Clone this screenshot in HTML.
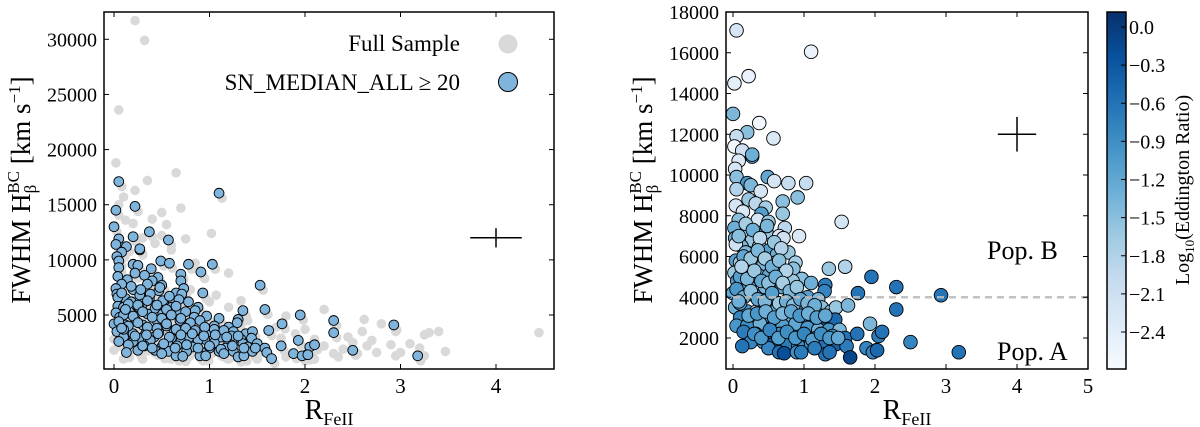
<!DOCTYPE html>
<html><head><meta charset="utf-8">
<style>
html,body{margin:0;padding:0;background:#fff;}
svg, svg text{font-family:"Liberation Serif","DejaVu Serif",serif;}
svg{display:block;}
</style></head>
<body>
<svg id="chart" width="1200" height="427" viewBox="0 0 1200 427" xmlns="http://www.w3.org/2000/svg" font-family="Liberation Serif, DejaVu Serif, serif">
<defs>
<linearGradient id="blues" x1="0" y1="1" x2="0" y2="0">
<stop offset="0" stop-color="#f7fbff"/><stop offset="0.125" stop-color="#deebf7"/><stop offset="0.25" stop-color="#c6dbef"/><stop offset="0.375" stop-color="#9ecae1"/><stop offset="0.5" stop-color="#6baed6"/><stop offset="0.625" stop-color="#4292c6"/><stop offset="0.75" stop-color="#2171b5"/><stop offset="0.875" stop-color="#08519c"/><stop offset="1" stop-color="#08306b"/>
</linearGradient>
</defs>
<g id="left"></g>
<g id="right"></g>
<g id="cbar"></g>
</svg>
<script>
const snX=[0.05,1.1,0.22,0.02,0.0,0.37,0.2,0.05,0.57,0.02,0.13,0.27,0.27,0.08,0.03,0.05,0.2,0.49,0.58,0.78,1.03,0.05,0.25,0.39,0.91,0.22,0.04,0.32,0.46,0.7,0.14,0.08,0.4,0.7,0.35,0.5,1.53,0.02,0.2,0.47,0.73,0.03,0.27,0.65,0.71,0.93,0.12,0.04,0.37,0.51,0.18,0.3,0.62,0.78,0.04,0.1,0.26,0.43,0.6,0.88,0.85,1.35,1.58,0.02,0.16,0.35,0.51,0.67,0.97,1.1,1.95,0.06,0.23,0.45,0.69,0.84,1.3,1.29,1.76,2.3,2.93,0.0,0.12,0.3,0.55,0.8,1.05,1.2,0.03,0.2,0.33,0.47,0.63,0.85,1.0,1.25,1.38,1.45,1.62,2.3,0.1,0.26,0.42,0.6,0.78,0.95,1.12,1.33,1.44,1.23,0.05,0.2,0.38,0.56,0.7,0.88,1.05,1.2,1.35,1.5,1.93,0.15,0.32,0.5,0.66,0.82,1.0,1.17,1.4,1.58,1.75,2.05,2.1,0.25,0.43,0.57,0.76,0.92,1.1,1.25,1.45,1.6,1.88,2.02,2.5,0.13,0.5,0.65,0.72,0.9,0.96,1.3,1.36,1.65,1.97,3.18,2.03,
0.08,0.18,0.28,0.38,0.48,0.58,0.68,0.15,0.25,0.35,0.45,0.55,0.65,0.75,0.1,0.2,0.3,0.4,0.5,0.6,0.7,0.8,0.9,0.05,0.15,0.25,0.35,0.45,0.55,0.65,0.75,0.85,0.95,1.05,1.15,0.1,0.22,0.34,0.46,0.58,0.7,0.82,0.94,1.06,1.18,1.3,0.3,0.4,0.52,0.64,0.76,0.88,1.0,1.12,1.24,1.36,1.48,1.15,0.08,0.12];
const snY=[17100,16050,14850,14500,13000,12550,12100,11900,11800,11400,11200,10900,11000,10700,10300,9900,9600,9900,9700,9600,9600,9300,9500,9200,8900,8800,8500,8600,8400,8700,8200,7800,8100,8100,7800,7700,7700,7400,7300,7200,7400,6900,6800,7000,6900,7000,6500,6600,6500,6300,6200,6000,6100,6200,5800,5700,5700,5600,5700,5700,5400,5400,5500,5200,5300,5100,5100,5200,4900,4700,5000,4800,4500,4500,4500,4800,4600,4300,4200,4500,4100,4200,4100,4100,4000,4000,4000,3900,3500,3300,3300,3400,3500,3300,3500,3500,3300,3500,3600,3400,3000,2900,3000,2900,2900,2800,3000,2800,2900,3100,2600,2600,2700,2500,2600,2700,2500,2400,2400,2400,2700,2300,2200,2100,2200,2100,2000,2000,2100,2000,2200,2100,2300,1800,1800,1700,1700,1600,1700,1700,1700,1600,1500,1400,1800,1600,1500,1300,1250,1300,1300,1200,1300,1050,1300,1300,1400,
7000,7600,7300,6900,7500,6700,6400,6000,5900,6300,5900,5500,5800,5300,5000,4900,5300,4800,4700,5000,4700,4300,4500,4400,4000,4300,3900,3800,4200,3700,3800,3600,3900,3700,3600,3700,3100,3200,3300,3000,3200,3300,3100,3200,3000,3100,2200,2000,2400,2000,2300,2000,2200,1900,2200,2000,2000,1500,3800,5500];
const snEdd=[-2.2,-2.5,-2.5,-2.4,-1.4,-2.6,-1.5,-2.0,-2.3,-2.6,-2.1,-1.1,-1.3,-2.3,-2.2,-1.5,-1.0,-1.2,-2.2,-2.0,-2.0,-1.8,-1.4,-2.2,-1.5,-1.6,-2.2,-1.9,-1.7,-1.5,-2.3,-1.5,-1.1,-1.6,-2.2,-1.6,-2.2,-1.3,-1.8,-1.6,-1.9,-1.3,-1.6,-2.3,-2.1,-2.3,-1.4,-2.1,-1.6,-1.1,-1.4,-1.7,-1.3,-1.6,-1.1,-1.7,-1.2,-1.4,-2.0,-1.7,-1.5,-1.6,-1.8,-1.6,-0.8,-1.3,-1.2,-1.5,-1.5,-1.3,-0.6,-1.0,-1.2,-1.4,-1.2,-1.6,-0.7,-0.8,-0.6,-0.6,-0.6,-1.2,-1.4,-1.1,-1.6,-1.1,-1.1,-1.4,-1.3,-1.0,-1.8,-1.1,-1.3,-1.4,-1.0,-1.5,-1.7,-1.6,-1.4,-0.6,-0.8,-1.2,-1.0,-1.0,-1.3,-1.1,-0.9,-0.2,-0.5,-1.4,-1.0,-0.9,-1.3,-0.9,-1.1,-1.2,-1.0,-1.3,-1.0,-1.4,-1.4,-0.7,-0.8,-0.6,-0.9,-0.8,-0.9,-0.8,-0.9,-0.6,-0.6,-0.7,-0.6,-0.8,-0.9,-0.4,-0.7,-0.9,-0.9,-0.6,-0.4,-0.7,-0.8,-0.8,-0.8,-0.6,-0.8,-0.6,-0.2,-0.9,-0.7,-0.6,-0.6,-0.1,-0.8,-0.6,-0.5,
-1.5,-1.7,-1.3,-1.9,-1.4,-1.6,-1.8,-1.2,-1.6,-1.4,-1.7,-1.3,-1.5,-1.8,-1.1,-1.4,-1.6,-1.2,-1.5,-1.3,-1.7,-1.4,-1.6,-1.0,-1.3,-1.5,-1.2,-1.4,-1.1,-1.6,-1.3,-1.5,-1.2,-1.4,-1.3,-1.1,-1.2,-1.0,-1.3,-1.1,-1.4,-1.2,-1.0,-1.3,-1.1,-1.2,-0.9,-1.0,-0.8,-1.1,-0.9,-1.0,-0.8,-1.1,-0.9,-1.0,-1.2,-0.7,-1.3,-1.8];
const fullX=[0.22,0.32,0.05,0.02,0.65,0.35,0.22,0.1,0.05,0.7,0.5,0.4,0.2,0.55,0.12,1.02,0.75,0.3,0.5,0.43,0.6,0.85,1.2,0.95,1.07,1.33,1.2,1.6,1.8,2.2,2.3,2.62,2.8,2.6,2.95,3.25,3.4,3.3,4.45,2.45,2.7,2.65,2.5,2.9,3.1,3.2,3.47,3.0,2.75,2.3,2.2,2.4,3.25,2.95,2.1,1.8,1.5,1.2,0.9,0.6,0.3,0.1,0.0,0.0,0.05,1.4,1.7,1.9,2.1,1.0,0.8,0.05,2.35,2.55,1.75,2.0,0.9];
const fullY=[31700,29900,23600,18800,17900,17200,16300,15700,15000,14700,14300,13700,13300,13200,13600,12400,11900,12000,12200,11500,10900,9700,8800,8300,6800,6300,5700,5200,4900,5500,4300,4600,4200,3500,3500,3200,3500,3400,3400,3000,2700,2200,2500,2300,2400,2000,1700,1600,1600,1500,2200,1900,1300,1300,1000,1200,1000,1000,1100,1000,1000,1000,1800,2800,8500,4500,3900,3300,2800,6200,7300,3000,1200,1500,2900,3700,9000];
const leftYTicks=[5000,10000,15000,20000,25000,30000];
const leftXTicks=[0,1,2,3,4];
const rightYTicks=[2000,4000,6000,8000,10000,12000,14000,16000,18000];
const rightXTicks=[0,1,2,3,4,5];
const cbTicks=[0.0,-0.3,-0.6,-0.9,-1.2,-1.5,-1.8,-2.1,-2.4];
const cbLabels=["0.0","\u22120.3","\u22120.6","\u22120.9","\u22121.2","\u22121.5","\u22121.8","\u22122.1","\u22122.4"];

const NS="http://www.w3.org/2000/svg";
const FF='Liberation Serif, DejaVu Serif, serif';
function mk(parent,tag,attrs){const e=document.createElementNS(NS,tag);for(const k in attrs)e.setAttribute(k,attrs[k]);if(tag==='text')e.setAttribute('font-family',FF);parent.appendChild(e);return e;}
function lin(d0,d1,r0,r1){return v=>r0+(v-d0)/(d1-d0)*(r1-r0);}

const stops=[[0,[247,251,255]],[0.125,[222,235,247]],[0.25,[198,219,239]],[0.375,[158,202,225]],[0.5,[107,174,214]],[0.625,[66,146,198]],[0.75,[33,113,181]],[0.875,[8,81,156]],[1,[8,48,107]]];
const VMIN=-2.69,VMAX=0.12;
function blues(v){let t=(v-VMIN)/(VMAX-VMIN);t=Math.max(0,Math.min(1,t));for(let i=1;i<stops.length;i++){if(t<=stops[i][0]){const a=stops[i-1],b=stops[i];const f=(t-a[0])/(b[0]-a[0]);const c=a[1].map((x,j)=>Math.round(x+(b[1][j]-x)*f));return `rgb(${c[0]},${c[1]},${c[2]})`;}}return "rgb(8,48,107)";}

function frame(g,L,T,R,B,xs,ys,xt,yt){
  for(const t of xt){const x=xs(t);
    const a=mk(g,'line',{x1:x,y1:B,x2:x,y2:B-5,stroke:'#000','stroke-width':1});
    
    const b=mk(g,'line',{x1:x,y1:T,x2:x,y2:T+5,stroke:'#000','stroke-width':1});
    
    const l=mk(g,'text',{x:x,y:B+24,'font-size':21,'text-anchor':'middle'});l.textContent=String(t);
    }
  yt.forEach(t=>{const y=ys(t);
    const a=mk(g,'line',{x1:L,y1:y,x2:L+5,y2:y,stroke:'#000','stroke-width':1});
    
    const b=mk(g,'line',{x1:R,y1:y,x2:R-5,y2:y,stroke:'#000','stroke-width':1});
    
    const l=mk(g,'text',{x:L-7,y:y+7,'font-size':20,'text-anchor':'end'});l.textContent=String(t);
    });
}
function border(g,L,T,R,B){const r=mk(g,'rect',{x:L,y:T,width:R-L,height:B-T,fill:'none',stroke:'#000','stroke-width':1.5});
  }
function ylabel(g,cx,cy){const t=mk(g,'text',{transform:`translate(${cx},${cy}) rotate(-90)`,'font-size':27,'text-anchor':'middle'});
  
  t.innerHTML='FWHM H<tspan font-size="17" dy="6">β</tspan><tspan font-size="17" dx="-9" dy="-17">BC</tspan><tspan dy="11"> [km s</tspan><tspan font-size="17" dy="-10">−1</tspan><tspan dy="10">]</tspan>';}
function xlabel(g,cx,y){const t=mk(g,'text',{x:cx,y:y,'font-size':28,'text-anchor':'middle'});
  
  t.innerHTML='R<tspan font-size="18" dy="6">FeII</tspan>';}
function cross(g,xs,ys,x,y,dx,dy){
  const a=mk(g,'line',{x1:xs(x-dx),y1:ys(y),x2:xs(x+dx),y2:ys(y),stroke:'#000','stroke-width':1.5});
  
  const b=mk(g,'line',{x1:xs(x),y1:ys(y-dy),x2:xs(x),y2:ys(y+dy),stroke:'#000','stroke-width':1.5});
  }

// LEFT PANEL
(function(){
  const g=document.getElementById('left');
  const L=104,T=12,R=554,B=369;
  const xs=lin(0,4,114,496), ys=lin(5000,30000,315,39.3);
  const pts=mk(g,'g',{});
  fullX.forEach((x,i)=>{const c=mk(pts,'circle',{cx:xs(x),cy:ys(fullY[i]),r:4.8,fill:'#d9d9d9'});
    });
  snX.forEach((x,i)=>{const c=mk(pts,'circle',{cx:xs(x)+3,cy:ys(snY[i])+5,r:4.8,fill:'#d9d9d9'});
    });
  const sp=mk(g,'g',{});
  snX.forEach((x,i)=>{const c=mk(sp,'circle',{cx:xs(x),cy:ys(snY[i]),r:4.9,fill:'#7fb4dc',stroke:'#000','stroke-width':0.9});
    });
  cross(g,xs,ys,4,12000,0.27,870);
  border(g,L,T,R,B);
  frame(g,L,T,R,B,xs,ys,leftXTicks,leftYTicks);
  ylabel(g,30,190);
  xlabel(g,329,419);
  const lg=mk(g,'g',{});
  const t1=mk(lg,'text',{x:460,y:51,'font-size':23,'text-anchor':'end'});t1.textContent='Full Sample';
  
  const c1=mk(lg,'circle',{cx:508,cy:44,r:9.5,fill:'#d9d9d9'});
  
  const t2=mk(lg,'text',{x:460,y:90,'font-size':23,'text-anchor':'end'});t2.textContent='SN_MEDIAN_ALL \u2265 20';
  
  const c2=mk(lg,'circle',{cx:508,cy:82,r:9.5,fill:'#7fb4dc',stroke:'#000','stroke-width':1});
  
})();

// RIGHT PANEL
(function(){
  const g=document.getElementById('right');
  const L=726,T=12,R=1088,B=369;
  const xs=lin(0,5,733,1088), ys=lin(2000,18000,338,12);
  const sp=mk(g,'g',{});
  snX.forEach((x,i)=>{const c=mk(sp,'circle',{cx:xs(x),cy:ys(snY[i]),r:6.8,fill:blues(snEdd[i]),stroke:'#000','stroke-width':0.9});
    });
  const dl=mk(g,'line',{x1:xs(0),y1:ys(4000),x2:R,y2:ys(4000),stroke:'#bbbbbb','stroke-width':2.5,'stroke-dasharray':'7,5','stroke-opacity':0.9});
  
  cross(g,xs,ys,4,12000,0.27,850);
  border(g,L,T,R,B);
  frame(g,L,T,R,B,xs,ys,rightXTicks,rightYTicks);
  ylabel(g,652,190);
  xlabel(g,907,419);
  const pb=mk(g,'text',{x:987,y:259,'font-size':26});pb.textContent='Pop. B';
  
  const pa=mk(g,'text',{x:997,y:360,'font-size':26});pa.textContent='Pop. A';
  
})();

// COLORBAR
(function(){
  const g=document.getElementById('cbar');
  const L=1107,R=1126,T=12,B=369;
  const ys=lin(0,-2.4,27,332);
  const r=mk(g,'rect',{x:L,y:T,width:R-L,height:B-T,fill:'url(#blues)',stroke:'#000','stroke-width':1.5});
  
  cbTicks.forEach((t,i)=>{const y=ys(t);
    const a=mk(g,'line',{x1:R-5,y1:y,x2:R,y2:y,stroke:'#000','stroke-width':1});
    
    const l=mk(g,'text',{x:R+3,y:y+7,'font-size':20});l.textContent=cbLabels[i];
    });
  const t=mk(g,'text',{transform:'translate(1189,190) rotate(-90)','font-size':20,'text-anchor':'middle'});
  
  t.innerHTML='Log<tspan font-size="13" dy="5">10</tspan><tspan dy="-5">(Eddington Ratio)</tspan>';
})();
</script>
</body></html>
